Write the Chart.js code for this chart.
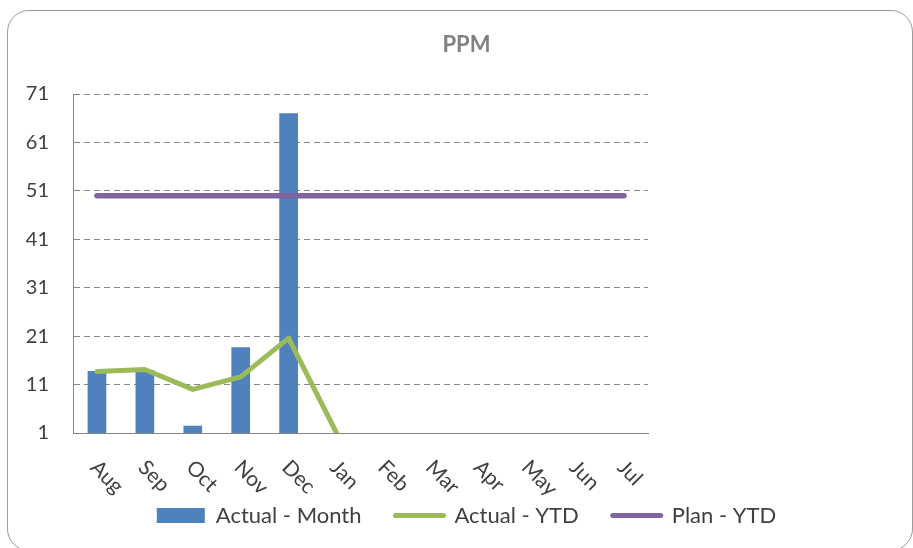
<!DOCTYPE html>
<html>
<head>
<meta charset="utf-8">
<script src="https://cdn.jsdelivr.net/npm/chart.js@4/dist/chart.umd.min.js"></script>
<style>
  html, body { margin: 0; padding: 0; background: #ffffff; overflow: hidden; }
  #frame {
    position: absolute; left: 7px; top: 10px; width: 906px; height: 541px;
    border: 1px solid #9c9c9c; border-radius: 22px; box-sizing: border-box;
  }
  #wrap { position: absolute; left: 0; top: 0; width: 913px; height: 548px; }
</style>
</head>
<body>
<div id="frame"></div>
<div id="wrap"><canvas id="chart" width="913" height="548"></canvas></div>
<script>
// Fiscal months, August through July
const months = ['Aug', 'Sep', 'Oct', 'Nov', 'Dec', 'Jan', 'Feb', 'Mar', 'Apr', 'May', 'Jun', 'Jul'];

// PPM per month
const actualMonth = [13.8, 14, 2.5, 18.7, 67, null, null, null, null, null, null, null];
// Year-to-date PPM
const actualYtd = [13.7, 14.1, 10, 12.6, 20.6, 1, null, null, null, null, null, null];
// Year-to-date target
const planYtd = [50, 50, 50, 50, 50, 50, 50, 50, 50, 50, 50, 50];

// Value axis
const yMin = 1;
const yMax = 71;
const yStep = 10;

const FONT = 'Lato, "Open Sans", "Liberation Sans", sans-serif';
const TEXT = '#404040';
const AXIS = '#868686';

// Month labels slanted downward to the right, starting at each category
const slantedLabels = {
  id: 'slantedLabels',
  afterDraw(chart) {
    const xs = chart.scales.x;
    const ctx = chart.ctx;
    ctx.save();
    ctx.font = '21px ' + FONT;
    ctx.fillStyle = TEXT;
    ctx.textAlign = 'left';
    ctx.textBaseline = 'middle';
    months.forEach((m, i) => {
      const x = xs.getPixelForValue(i);
      ctx.save();
      ctx.translate(x - 3, chart.chartArea.bottom + 31);
      ctx.rotate(Math.PI / 4);
      ctx.fillText(m, 0, 0);
      ctx.restore();
    });
    ctx.restore();
  }
};

new Chart(document.getElementById('chart'), {
  type: 'bar',
  data: {
    labels: months,
    datasets: [
      {
        label: 'Actual - Month',
        data: actualMonth,
        backgroundColor: '#4f81bd',
        borderWidth: 0,
        categoryPercentage: 1,
        barPercentage: 0.39,
        yAxisID: 'y',
        order: 2
      },
      {
        type: 'line',
        label: 'Actual - YTD',
        data: actualYtd,
        borderColor: '#9bbb59',
        backgroundColor: '#9bbb59',
        borderWidth: 5,
        pointRadius: 0,
        borderJoinStyle: 'round',
        borderCapStyle: 'round',
        tension: 0,
        spanGaps: false,
        yAxisID: 'y',
        order: 1
      },
      {
        type: 'line',
        label: 'Plan - YTD',
        data: planYtd,
        borderColor: '#8064a2',
        backgroundColor: '#8064a2',
        borderWidth: 5.5,
        pointRadius: 0,
        borderJoinStyle: 'round',
        borderCapStyle: 'round',
        tension: 0,
        yAxisID: 'y',
        order: 0
      }
    ]
  },
  options: {
    responsive: false,
    animation: false,
    devicePixelRatio: 1,
    layout: { padding: { left: 20, right: 0, top: 20, bottom: 11.5 } },
    plugins: {
      tooltip: { enabled: false },
      title: {
        display: true,
        text: 'PPM',
        color: '#808080',
        font: { family: FONT, size: 22, weight: 'bold' },
        padding: { top: 12, bottom: 35.6 }
      },
      legend: {
        position: 'bottom',
        align: 'center',
        labels: {
          usePointStyle: true,
          pointStyleWidth: 48,
          boxHeight: 15,
          padding: 34,
          color: TEXT,
          font: { family: FONT, size: 22 },
          generateLabels(chart) {
            return chart.data.datasets.map((ds, i) => {
              const isBar = !ds.type;
              return {
                text: ds.label,
                datasetIndex: i,
                hidden: false,
                fontColor: TEXT,
                pointStyle: isBar ? 'rect' : 'line',
                fillStyle: ds.backgroundColor,
                strokeStyle: isBar ? 'rgba(0,0,0,0)' : ds.borderColor,
                lineWidth: isBar ? 0 : 5,
                lineCap: 'round'
              };
            });
          }
        }
      }
    },
    scales: {
      x: {
        offset: true,
        grid: { display: false },
        border: { display: true, color: AXIS, width: 1 },
        ticks: { display: false },
        afterFit(scale) { scale.height = 37.5; }
      },
      y: {
        position: 'left',
        min: yMin,
        max: yMax,
        ticks: {
          stepSize: yStep,
          color: TEXT,
          padding: 24,
          font: { family: FONT, size: 20 }
        },
        grid: { color: AXIS, lineWidth: 1, drawTicks: false },
        border: { display: true, color: AXIS, width: 1, dash: [6, 4] },
        afterFit(scale) { scale.width = 53; }
      },
      side: {
        position: 'right',
        display: true,
        grid: { display: false },
        border: { display: false },
        ticks: { display: false },
        afterFit(scale) { scale.width = 265; }
      }
    }
  },
  plugins: [slantedLabels]
});
</script>
</body>
</html>
